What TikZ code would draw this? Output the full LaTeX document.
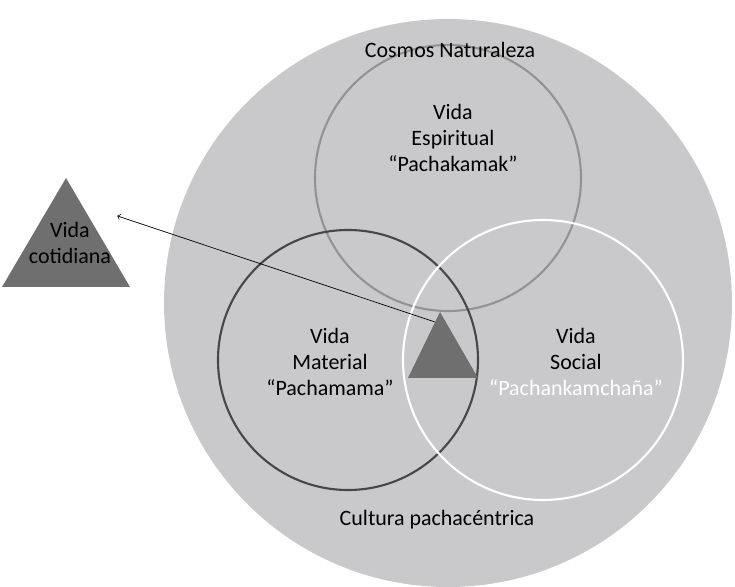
\documentclass[tikz,border=0pt]{standalone}
\usepackage{fontspec}
\setmainfont{Carlito}
\usetikzlibrary{positioning}
\definecolor{fondo}{HTML}{C9C9CB}
\definecolor{tri}{HTML}{6F6F6F}
\tikzset{
  lab/.style={align=center,font=\fontsize{12.5}{15}\selectfont},
  trian/.style={fill=tri,draw=none}
}
\begin{document}
\begin{tikzpicture}[x=0.02cm,y=-0.02cm]
	\useasboundingbox (0,0) rectangle (735,587);
	\fill [fondo] (448,303) circle (284);
	\draw [line width=1.2pt,draw=gray!85] (448,178) circle (133);
	\draw [line width=1.2pt,draw=black!72] (348,360) circle (130);
	\draw [line width=1.2pt,draw=white] (543,360) circle (140);
	\fill [trian] (440,312) -- (478,378) -- (408,378) -- cycle;
	\fill [trian] (66,178) -- (130,287) -- (2,287) -- cycle;
	\coordinate (centro) at (435,322);
	\node [lab] (cot) at (70,243) {Vida\\cotidiana};
	\draw [->,thin] (centro) -- (cot.north east);
	\node [lab] (cosmos) at (450,50) {Cosmos Naturaleza};
	\node [lab] (esp) at (453,138) {Vida\\Espiritual\\“Pachakamak”};
	\node [lab] (mat) at (330,362) {Vida\\Material\\“Pachamama”};
	\node [lab] (soc) at (576,362) {Vida\\Social\\\textcolor{white}{“Pachankamchaña”}};
	\node [lab] (cult) at (437,520) {Cultura pachacéntrica};
\end{tikzpicture}
\end{document}
